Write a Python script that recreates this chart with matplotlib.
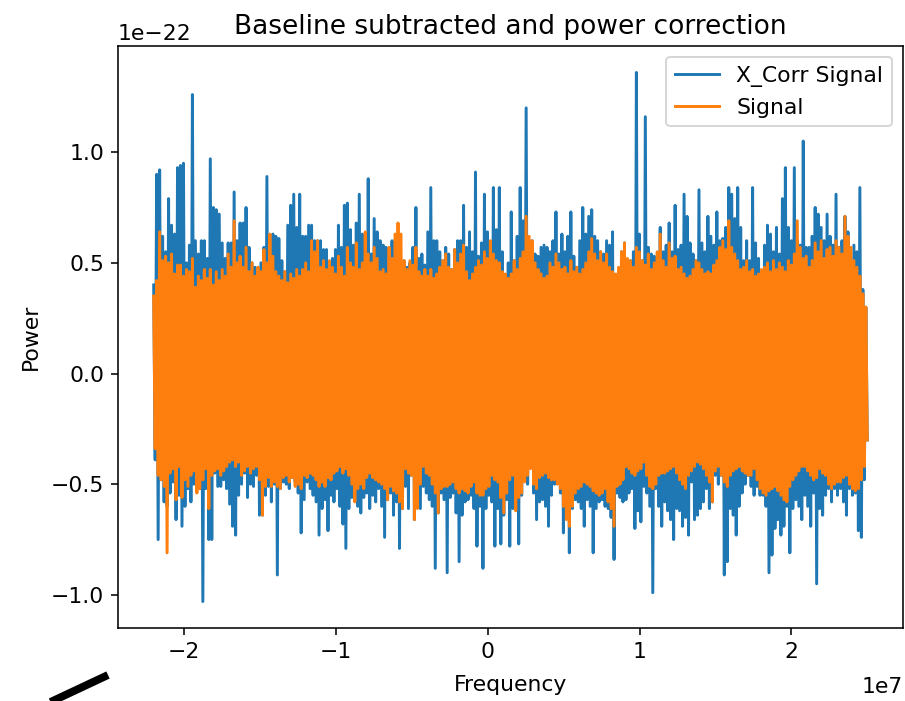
import numpy as np
import matplotlib
matplotlib.use("Agg")
import matplotlib.pyplot as plt
import matplotlib.transforms as mtransforms
from matplotlib.lines import Line2D

# Frequency span of the spectrum (Hz)
f_start = -2.2e7
f_stop = 2.5e7

# Power values in units of 1e-24 (hundredths of 1e-22); alternating
# local maxima / minima along the frequency axis.
xcorr_high = [
    40, 90, 92, 62, 55, 79, 67, 63, 93, 94,
    95, 50, 58, 126, 60, 54, 60, 60, 52, 97,
    75, 74, 72, 59, 52, 59, 59, 82, 60, 68,
    68, 75, 57, 50, 48, 48, 50, 57, 89, 55,
    63, 62, 61, 51, 46, 67, 76, 81, 66, 81,
    62, 62, 67, 67, 60, 60, 60, 56, 56, 49,
    52, 56, 67, 57, 76, 77, 65, 58, 68, 81,
    63, 55, 88, 54, 70, 64, 60, 58, 57, 47,
    60, 55, 62, 51, 51, 48, 50, 57, 75, 52,
    54, 49, 64, 84, 60, 60, 55, 51, 57, 54,
    47, 56, 60, 60, 76, 57, 64, 55, 91, 53,
    59, 81, 64, 58, 84, 65, 84, 55, 42, 50,
    73, 51, 62, 84, 69, 120, 60, 60, 54, 53,
    57, 58, 57, 55, 60, 73, 54, 63, 55, 62,
    73, 53, 48, 60, 75, 63, 71, 74, 62, 60,
    55, 54, 60, 58, 64, 42, 44, 55, 59, 48,
    51, 55, 136, 63, 51, 116, 57, 54, 53, 49,
    66, 55, 58, 68, 55, 76, 56, 58, 81, 71,
    59, 54, 51, 83, 59, 55, 71, 62, 58, 73,
    60, 61, 66, 84, 81, 70, 84, 66, 51, 60,
    51, 84, 59, 52, 45, 58, 67, 63, 55, 66,
    54, 79, 93, 66, 60, 93, 60, 58, 105, 57,
    57, 62, 75, 72, 66, 60, 72, 62, 58, 81,
    57, 60, 71, 64, 51, 58, 55, 84, 38, 30,
]
xcorr_low = [
    -39, -75, -48, -58, -60, -54, -49, -66, -55, -69,
    -60, -52, -58, -50, -52, -52, -103, -52, -75, -75,
    -45, -51, -51, -48, -52, -59, -69, -73, -55, -50,
    -45, -56, -50, -51, -46, -64, -64, -55, -51, -58,
    -50, -91, -52, -49, -50, -52, -47, -49, -54, -72,
    -57, -49, -52, -55, -58, -73, -61, -57, -71, -55,
    -58, -52, -60, -68, -79, -61, -56, -54, -60, -63,
    -56, -54, -61, -55, -58, -52, -60, -74, -57, -54,
    -64, -58, -79, -61, -51, -61, -46, -66, -55, -61,
    -51, -54, -57, -60, -88, -63, -54, -57, -90, -56,
    -54, -63, -85, -64, -58, -57, -55, -61, -78, -60,
    -88, -61, -55, -58, -78, -61, -77, -64, -57, -78,
    -61, -58, -77, -55, -46, -50, -42, -54, -66, -58,
    -57, -60, -69, -55, -50, -46, -54, -72, -60, -81,
    -61, -57, -58, -61, -69, -57, -60, -81, -61, -58,
    -57, -60, -61, -65, -84, -54, -56, -58, -57, -54,
    -52, -70, -62, -67, -51, -54, -60, -99, -52, -60,
    -69, -58, -62, -66, -75, -61, -62, -69, -65, -73,
    -49, -66, -64, -61, -58, -52, -61, -58, -46, -50,
    -46, -91, -85, -61, -64, -73, -60, -54, -50, -46,
    -51, -55, -51, -55, -55, -60, -90, -82, -70, -66,
    -73, -69, -60, -81, -61, -57, -60, -66, -55, -60,
    -69, -54, -95, -61, -64, -55, -52, -58, -52, -55,
    -52, -58, -64, -52, -55, -54, -71, -74, -48, -30,
]
signal_high = [
    35, 42, 64, 51, 53, 50, 54, 45, 49, 49,
    44, 47, 46, 52, 39, 44, 42, 47, 43, 47,
    40, 46, 42, 47, 44, 54, 48, 69, 50, 53,
    48, 57, 46, 50, 44, 48, 46, 56, 50, 63,
    53, 46, 44, 42, 46, 41, 45, 43, 47, 44,
    47, 50, 46, 60, 55, 60, 48, 51, 47, 51,
    48, 45, 53, 48, 44, 57, 50, 48, 59, 47,
    50, 64, 54, 50, 57, 52, 46, 47, 45, 57,
    52, 63, 68, 63, 51, 47, 51, 49, 57, 46,
    44, 47, 44, 47, 43, 45, 48, 51, 54, 48,
    47, 56, 50, 54, 58, 46, 42, 45, 48, 51,
    49, 55, 52, 60, 54, 51, 50, 46, 45, 43,
    45, 51, 47, 52, 55, 71, 62, 60, 50, 47,
    45, 43, 44, 50, 48, 54, 50, 47, 48, 45,
    51, 46, 48, 45, 47, 50, 55, 61, 54, 51,
    55, 50, 54, 48, 46, 45, 48, 55, 59, 52,
    51, 48, 57, 55, 51, 49, 54, 47, 50, 55,
    63, 51, 48, 59, 52, 53, 47, 48, 45, 43,
    44, 47, 51, 50, 47, 45, 46, 45, 49, 51,
    57, 60, 56, 69, 57, 54, 51, 47, 48, 51,
    46, 47, 44, 45, 47, 48, 50, 46, 51, 47,
    50, 48, 46, 51, 49, 54, 69, 57, 52, 53,
    48, 51, 59, 55, 60, 52, 56, 57, 53, 60,
    57, 54, 71, 62, 57, 51, 48, 44, 36, 30,
]
signal_low = [
    -34, -46, -48, -51, -81, -45, -43, -57, -42, -56,
    -48, -51, -46, -44, -54, -52, -48, -43, -61, -46,
    -44, -43, -46, -44, -42, -40, -39, -42, -40, -46,
    -44, -42, -45, -43, -42, -48, -64, -51, -47, -51,
    -49, -51, -52, -47, -46, -49, -47, -51, -50, -52,
    -46, -47, -45, -46, -48, -51, -49, -51, -47, -48,
    -45, -44, -42, -45, -43, -46, -50, -58, -52, -50,
    -52, -47, -45, -47, -48, -49, -50, -52, -57, -51,
    -53, -54, -58, -61, -43, -45, -46, -66, -61, -50,
    -42, -45, -46, -50, -54, -63, -52, -51, -51, -50,
    -49, -52, -54, -52, -53, -54, -51, -49, -54, -55,
    -55, -52, -51, -46, -48, -49, -56, -63, -54, -48,
    -46, -62, -56, -54, -49, -46, -43, -50, -52, -47,
    -46, -45, -47, -48, -48, -50, -52, -60, -66, -69,
    -60, -54, -52, -51, -49, -50, -51, -53, -54, -55,
    -54, -52, -58, -61, -69, -51, -50, -48, -42, -43,
    -45, -46, -44, -43, -40, -46, -51, -52, -50, -46,
    -45, -45, -44, -43, -42, -45, -48, -50, -52, -46,
    -44, -42, -40, -41, -43, -46, -49, -58, -44, -42,
    -46, -49, -51, -46, -44, -43, -42, -44, -45, -46,
    -46, -43, -48, -52, -54, -55, -53, -52, -51, -53,
    -55, -57, -58, -51, -48, -46, -44, -42, -42, -44,
    -46, -48, -47, -43, -45, -46, -50, -52, -50, -49,
    -49, -47, -46, -50, -52, -53, -52, -48, -42, -30,
]

unit = 1e-24


def interleave(high, low):
    return np.column_stack([high, low]).ravel() * unit


xcorr = interleave(xcorr_high, xcorr_low)
signal = interleave(signal_high, signal_low)
freq = np.linspace(f_start, f_stop, len(xcorr))

plt.rcParams["font.size"] = 11.2

dpi = 141
fig = plt.figure(figsize=(905 / dpi, 701 / dpi), dpi=dpi)
ax = fig.add_axes([118 / 905, 73 / 701, 785 / 905, 582 / 701])

ax.plot(freq, xcorr, label="X_Corr Signal")
ax.plot(freq, signal, label="Signal")

ax.set_title("Baseline subtracted and power correction")
ax.set_xlabel("Frequency", labelpad=7)
ax.set_ylabel("Power", labelpad=5)
ax.legend(loc="upper right")

# nudge the x-axis scale factor slightly downward
off = ax.xaxis.get_offset_text()
off.set_transform(off.get_transform()
                  + mtransforms.ScaledTranslation(0, -5 / 72, fig.dpi_scale_trans))

# pen stroke at the lower-left corner
fig.add_artist(Line2D([42 / 905, 108 / 905], [-5 / 701, 26 / 701],
                      transform=fig.transFigure, color="black", lw=4.0,
                      solid_capstyle="butt"))

fig.savefig("out.png", dpi=dpi)
